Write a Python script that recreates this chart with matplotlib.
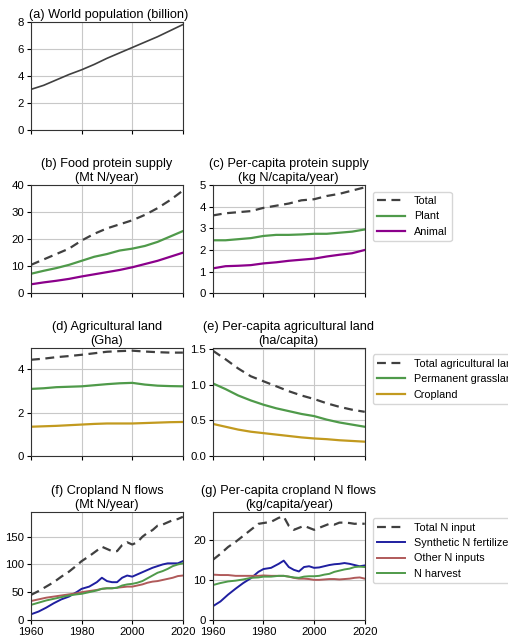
import matplotlib
matplotlib.use("Agg")
import matplotlib.pyplot as plt
import numpy as np

plt.rcParams['font.family'] = ['Liberation Sans', 'DejaVu Sans']
plt.rcParams['font.size'] = 8

yrs = [1960,1965,1970,1975,1980,1985,1990,1995,2000,2005,2010,2015,2020]
pop = [3.0,3.3,3.7,4.1,4.45,4.85,5.3,5.7,6.1,6.5,6.9,7.35,7.8]

prot_total = [10.5,12.5,14.5,16.5,19.5,22,24,25.5,27,29,31.5,34.5,38]
prot_plant = [7.2,8.3,9.3,10.5,12,13.5,14.5,15.8,16.5,17.5,19,21,23]
prot_anim = [3.3,4.0,4.6,5.3,6.2,7.0,7.8,8.6,9.6,10.8,12,13.5,15]
pc_total = [3.6,3.7,3.75,3.8,3.95,4.05,4.15,4.3,4.35,4.5,4.6,4.75,4.9]
pc_plant = [2.45,2.45,2.5,2.55,2.65,2.7,2.7,2.72,2.75,2.75,2.8,2.85,2.95]
pc_anim = [1.15,1.25,1.27,1.3,1.38,1.43,1.5,1.55,1.6,1.7,1.78,1.85,2.0]

ag_total = [4.45,4.5,4.57,4.62,4.68,4.75,4.82,4.85,4.87,4.83,4.8,4.78,4.78]
ag_grass = [3.1,3.13,3.18,3.2,3.22,3.27,3.32,3.36,3.38,3.3,3.25,3.23,3.22]
ag_crop = [1.35,1.37,1.39,1.42,1.45,1.48,1.5,1.5,1.5,1.52,1.54,1.56,1.57]
pa_total = [1.48,1.36,1.23,1.12,1.05,0.98,0.91,0.85,0.8,0.74,0.69,0.65,0.62]
pa_grass = [1.02,0.94,0.85,0.78,0.72,0.67,0.63,0.59,0.56,0.51,0.47,0.44,0.41]
pa_crop = [0.45,0.41,0.37,0.34,0.32,0.3,0.28,0.26,0.245,0.235,0.22,0.21,0.2]

nyrs = [1960,1963,1966,1969,1972,1975,1978,1980,1983,1986,1988,1990,1992,1994,1996,1998,2000,2002,2004,2006,2008,2010,2012,2014,2016,2018,2020]
n_total = [45,52,60,68,78,87,98,106,115,125,132,128,124,124,135,140,136,140,150,157,162,170,172,176,180,182,186]
n_syn = [10,15,22,30,37,42,50,56,60,68,76,70,68,68,76,80,78,82,86,90,94,97,100,102,102,102,106]
n_oth = [34,37,40,42,44,46,48,50,52,54,56,57,57,58,59,60,60,62,64,67,69,70,72,74,76,79,80]
n_harv = [27,31,35,38,41,44,46,47,50,53,56,57,57,58,62,64,65,67,70,75,80,85,88,92,97,100,102]
g_total = [15,16.5,18.2,19.5,21,22.5,24,24.2,24.5,25.5,25.8,23.5,22.5,23,23.5,23,22.5,23,23.5,24,23.8,24.3,24.3,24.2,24,24.1,24]
g_syn = [3.4,4.6,6.3,7.8,9.2,10.4,12,12.7,13,14,14.8,13.2,12.5,12.1,13.2,13.4,13,13.1,13.4,13.7,13.9,14,14.2,14,13.7,13.4,13.6]
g_oth = [11.3,11.2,11.2,11,11,11,11,11.1,11,11,11,10.8,10.5,10.3,10.3,10.2,10,10,10.1,10.2,10.2,10.1,10.2,10.3,10.5,10.6,10.3]
g_harv = [8.7,9.2,9.6,9.8,10.1,10.5,10.6,10.8,10.8,11,11,10.8,10.6,10.5,10.8,10.9,10.9,11,11.3,11.5,12,12.3,12.6,12.8,13.2,13.3,13.2]

DASH = dict(color='#404040', ls=(0,(4,2.5)), lw=1.6)
GREEN = '#4f9a4a'; PURPLE = '#8b008b'; GOLD = '#c29a1f'
BLUE = '#1f1fa0'; RED = '#b05a5a'
TF = 9.2; LF = 7.8

fig = plt.figure(figsize=(5.08, 6.43), dpi=100)
L, R, W, H = 0.061, 0.419, 0.299, 0.168
rows = [0.798, 0.544, 0.291, 0.036]

def mk(x, y):
    ax = fig.add_axes([x, y, W, H])
    ax.set_xlim(1960, 2020)
    ax.set_xticks([1960, 1980, 2000, 2020])
    ax.grid(True, color='#c8c8c8', lw=0.8)
    ax.tick_params(labelsize=8.2, length=3, pad=2)
    for s in ax.spines.values():
        s.set_color('#333333')
    return ax

def leg(ax):
    ax.legend(loc='upper left', bbox_to_anchor=(1.03, 0.97), fontsize=LF, frameon=True,
              handlelength=2.6, borderaxespad=0.3)

ax = mk(L, rows[0])
ax.plot(yrs, pop, color='#404040', lw=1.2)
ax.set_ylim(0, 8); ax.set_yticks([0,2,4,6,8])
ax.set_title('(a) World population (billion)', fontsize=TF, loc='left', x=-0.01, pad=3)
ax.set_xticklabels([])

ax = mk(L, rows[1])
ax.plot(yrs, prot_total, **DASH); ax.plot(yrs, prot_plant, color=GREEN, lw=1.6); ax.plot(yrs, prot_anim, color=PURPLE, lw=1.6)
ax.set_ylim(0, 40); ax.set_yticks([0,10,20,30,40]); ax.set_xticklabels([])
ax.set_title('(b) Food protein supply\n(Mt N/year)', fontsize=TF, pad=3)
ax = mk(R, rows[1])
ax.plot(yrs, pc_total, **DASH, label='Total'); ax.plot(yrs, pc_plant, color=GREEN, lw=1.6, label='Plant'); ax.plot(yrs, pc_anim, color=PURPLE, lw=1.6, label='Animal')
ax.set_ylim(0, 5); ax.set_yticks([0,1,2,3,4,5]); ax.set_xticklabels([])
ax.set_title('(c) Per-capita protein supply\n(kg N/capita/year)', fontsize=TF, pad=3)
leg(ax)

ax = mk(L, rows[2])
ax.plot(yrs, ag_total, **DASH); ax.plot(yrs, ag_grass, color=GREEN, lw=1.6); ax.plot(yrs, ag_crop, color=GOLD, lw=1.6)
ax.set_ylim(0, 5); ax.set_yticks([0,2,4]); ax.set_xticklabels([])
ax.set_title('(d) Agricultural land\n(Gha)', fontsize=TF, pad=3)
ax = mk(R, rows[2])
ax.plot(yrs, pa_total, **DASH, label='Total agricultural land'); ax.plot(yrs, pa_grass, color=GREEN, lw=1.6, label='Permanent grassland'); ax.plot(yrs, pa_crop, color=GOLD, lw=1.6, label='Cropland')
ax.set_ylim(0, 1.52); ax.set_yticks([0,0.5,1.0,1.5]); ax.set_xticklabels([])
ax.set_title('(e) Per-capita agricultural land\n(ha/capita)', fontsize=TF, pad=3)
leg(ax)

ax = mk(L, rows[3])
ax.plot(nyrs, n_total, **DASH); ax.plot(nyrs, n_syn, color=BLUE, lw=1.4); ax.plot(nyrs, n_oth, color=RED, lw=1.4); ax.plot(nyrs, n_harv, color=GREEN, lw=1.4)
ax.set_ylim(0, 195); ax.set_yticks([0,50,100,150])
ax.set_title('(f) Cropland N flows\n(Mt N/year)', fontsize=TF, pad=3)
ax = mk(R, rows[3])
ax.plot(nyrs, g_total, **DASH, label='Total N input'); ax.plot(nyrs, g_syn, color=BLUE, lw=1.4, label='Synthetic N fertilizer'); ax.plot(nyrs, g_oth, color=RED, lw=1.4, label='Other N inputs'); ax.plot(nyrs, g_harv, color=GREEN, lw=1.4, label='N harvest')
ax.set_ylim(0, 27); ax.set_yticks([0,10,20])
ax.set_title('(g) Per-capita cropland N flows\n(kg/capita/year)', fontsize=TF, pad=3)
leg(ax)

fig.savefig('out.png', dpi=100)
